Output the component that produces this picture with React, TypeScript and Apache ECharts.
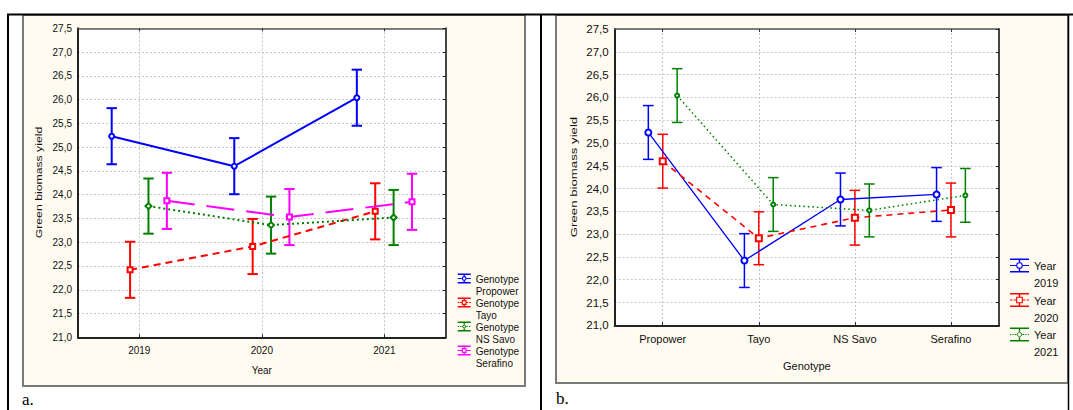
import React, { useEffect, useRef } from 'react';
import * as echarts from 'echarts';

// ---------------- data ----------------
const years = ['2019', '2020', '2021'];
const genotypes = ['Propower', 'Tayo', 'NS Savo', 'Serafino'];

const propowerMean = [25.23, 24.6, 26.04];
const tayoMean = [22.42, 22.91, 23.65];
const nsSavoMean = [23.76, 23.36, 23.52];
const serafinoMean = [23.87, 23.53, 23.85];

const propowerCI = [0.59, 0.59, 0.59];
const tayoCI = [0.59, 0.58, 0.59];
const nsSavoCI = [0.58, 0.6, 0.58];
const serafinoCI = [0.59, 0.59, 0.59];

const yMin = 21;
const yMax = 27.5;
const yStep = 0.5;

const genotypeMeans = [propowerMean, tayoMean, nsSavoMean, serafinoMean];
const genotypeCIs = [propowerCI, tayoCI, nsSavoCI, serafinoCI];

// ---------------- styling ----------------
const FONT = '"Liberation Sans", Arial, Helvetica, sans-serif';
const TXT = '#111111';
const GRIDC = '#c6c6c6';
const PANEL = '#fffbf0';

const leftStyles = [
  { color: '#0000ff', type: 'solid', width: 2, symbol: 'emptyCircle', size: 5, marker: 'circle', dash: 'solid' },
  { color: '#ff0000', type: [7, 5], width: 2, symbol: 'emptyRect', size: 5, marker: 'square', dash: 'dashed' },
  { color: '#008000', type: [2, 3], width: 2, symbol: 'emptyDiamond', size: 6, marker: 'diamond', dash: 'dotted' },
  { color: '#ff00ff', type: [28, 12], width: 2, symbol: 'emptyRect', size: 5, marker: 'square', dash: 'solid' },
];
const rightStyles = [
  { color: '#0000ff', type: 'solid', width: 1.3, symbol: 'emptyCircle', size: 6, marker: 'circle', dash: 'solid' },
  { color: '#ff0000', type: [6, 5], width: 1.6, symbol: 'emptyRect', size: 6, marker: 'square', dash: 'dashed' },
  { color: '#008000', type: [1.5, 3], width: 1.6, symbol: 'emptyCircle', size: 4, marker: 'diamond', dash: 'dotted' },
];

const rectP = (x: number, y: number, w: number, h: number) => `M${x},${y}H${x + w}V${y + h}H${x}Z`;

function glyph(w: number, gh: number, top: number, total: number, marker: string, dash: string) {
  const t = 1.4;
  const cx = w / 2;
  const cy = top + gh / 2;
  const r = gh * 0.24;
  const ri = r - 1.1;
  let d = `M0,0 `;
  d += rectP(0, top, w, t) + rectP(0, top + gh - t, w, t);
  d += rectP(cx - t / 2, top + t, t, cy - r - top - t);
  d += rectP(cx - t / 2, cy + r, t, top + gh - t - cy - r);
  const side = cx - r;
  const mids = (x0: number) => {
    if (dash === 'solid') return rectP(x0, cy - 0.6, side, 1.2);
    if (dash === 'dashed') return rectP(x0, cy - 0.6, side * 0.4, 1.2) + rectP(x0 + side * 0.6, cy - 0.6, side * 0.4, 1.2);
    let s = '';
    for (let p = 0; p + 1.2 <= side; p += 2.4) s += rectP(x0 + p, cy - 0.6, 1.2, 1.2);
    return s;
  };
  d += mids(0) + mids(cx + r);
  if (marker === 'circle') {
    d += `M${cx + r},${cy}A${r},${r},0,1,1,${cx - r},${cy}A${r},${r},0,1,1,${cx + r},${cy}Z`;
    d += `M${cx + ri},${cy}A${ri},${ri},0,1,0,${cx - ri},${cy}A${ri},${ri},0,1,0,${cx + ri},${cy}Z`;
  } else if (marker === 'square') {
    d += rectP(cx - r, cy - r, 2 * r, 2 * r);
    d += `M${cx - ri},${cy - ri}V${cy + ri}H${cx + ri}V${cy - ri}Z`;
  } else {
    d += `M${cx},${cy - r}L${cx + r},${cy}L${cx},${cy + r}L${cx - r},${cy}Z`;
    d += `M${cx},${cy - ri}L${cx - ri},${cy}L${cx},${cy + ri}L${cx + ri},${cy}Z`;
  }
  d += `M0,${total}`;
  return 'path://' + d;
}

const errRender = (color: string, lw: number, cap: number) => (params: any, api: any) => {
  const x = api.value(0);
  const lo = api.coord([x, api.value(1)]);
  const hi = api.coord([x, api.value(2)]);
  const st = { stroke: color, lineWidth: lw };
  return {
    type: 'group',
    children: [
      { type: 'line', shape: { x1: lo[0], y1: lo[1], x2: hi[0], y2: hi[1] }, style: st },
      { type: 'line', shape: { x1: hi[0] - cap, y1: hi[1], x2: hi[0] + cap, y2: hi[1] }, style: st },
      { type: 'line', shape: { x1: lo[0] - cap, y1: lo[1], x2: lo[0] + cap, y2: lo[1] }, style: st },
    ],
  };
};

const fmtY = (v: number) => v.toFixed(1).replace('.', ',');

function buildOption() {
  const series: any[] = [];
  // left chart: x = year, one line per genotype
  genotypes.forEach((g, gi) => {
    const s = leftStyles[gi];
    const off = (gi - (genotypes.length - 1) / 2) * 0.15;
    const means = genotypeMeans[gi];
    const ci = genotypeCIs[gi];
    series.push({
      type: 'custom', name: g + ' CI', xAxisIndex: 0, yAxisIndex: 0, z: 2,
      renderItem: errRender(s.color, 2, 5.2),
      encode: { x: 0, y: [1, 2] },
      data: means.map((v, i) => [i + off, v - ci[i], v + ci[i]]),
    });
    series.push({
      type: 'line', name: g, xAxisIndex: 0, yAxisIndex: 0, z: 3,
      symbol: s.symbol, symbolSize: s.size,
      itemStyle: { color: s.color, borderWidth: 1.2 },
      lineStyle: { color: s.color, width: s.width, type: s.type },
      data: means.map((v, i) => [i + off, v]),
    });
  });
  // right chart: x = genotype, one line per year
  years.forEach((y, yi) => {
    const s = rightStyles[yi];
    const off = (yi - (years.length - 1) / 2) * 0.15;
    series.push({
      type: 'custom', name: y + ' CI', xAxisIndex: 2, yAxisIndex: 2, z: 2,
      renderItem: errRender(s.color, 1.5, 5.3),
      encode: { x: 0, y: [1, 2] },
      data: genotypes.map((g, gi) => [gi + off, genotypeMeans[gi][yi] - genotypeCIs[gi][yi], genotypeMeans[gi][yi] + genotypeCIs[gi][yi]]),
    });
    series.push({
      type: 'line', name: y, xAxisIndex: 2, yAxisIndex: 2, z: 3,
      symbol: s.symbol, symbolSize: s.size,
      itemStyle: { color: s.color, borderWidth: 1.2 },
      lineStyle: { color: s.color, width: s.width, type: s.type },
      data: genotypes.map((g, gi) => [gi + off, genotypeMeans[gi][yi]]),
    });
  });

  const splitL = { show: true, lineStyle: { color: GRIDC, type: [2, 2], width: 1 } };
  const yIdx = (n: number) => Array.from({ length: n }, (_, i) => i);

  const mkX = (gridIndex: number, n: number, labels: string[], fs: number, name: string, nameGap: number) => [
    {
      type: 'value', gridIndex, min: -0.5, max: n - 0.5, position: 'bottom',
      axisLine: { show: true, onZero: false, lineStyle: { color: '#222', width: 2 } },
      axisTick: { show: true, inside: true, length: 3, customValues: yIdx(n), lineStyle: { color: '#222' } },
      axisLabel: { customValues: yIdx(n), formatter: (v: number) => labels[Math.round(v)] ?? '', fontSize: fs, fontFamily: FONT, color: TXT, margin: 8 },
      splitLine: splitL,
      name, nameLocation: 'middle', nameGap,
      nameTextStyle: { fontSize: fs, fontFamily: FONT, color: TXT },
    },
    {
      type: 'value', gridIndex, min: -0.5, max: n - 0.5, position: 'top',
      axisLine: { show: true, onZero: false, lineStyle: { color: '#555', width: 1.5 } },
      axisTick: { show: true, inside: true, length: 3, customValues: yIdx(n), lineStyle: { color: '#333' } },
      axisLabel: { show: false },
      splitLine: { show: false },
    },
  ];
  const mkY = (gridIndex: number, fs: number) => [
    {
      type: 'value', gridIndex, min: yMin, max: yMax, interval: yStep, position: 'left',
      axisLine: { show: true, onZero: false, lineStyle: { color: '#222', width: 2 } },
      axisTick: { show: false },
      axisLabel: { formatter: fmtY, fontSize: fs, fontFamily: FONT, color: TXT, margin: 6 },
      splitLine: splitL,
    },
    {
      type: 'value', gridIndex, min: yMin, max: yMax, interval: yStep, position: 'right',
      axisLine: { show: true, onZero: false, lineStyle: { color: '#444', width: 2 } },
      axisTick: { show: true, inside: true, length: 3, lineStyle: { color: '#222' } },
      axisLabel: { show: false },
      splitLine: { show: false },
    },
  ];

  return {
    animation: false,
    grid: [
      { left: 78, top: 28.3, width: 367.7, height: 309, show: true, backgroundColor: '#ffffff', borderWidth: 0 },
      { left: 614.7, top: 29, width: 384.3, height: 296.3, show: true, backgroundColor: '#ffffff', borderWidth: 0 },
    ],
    xAxis: [
      ...mkX(0, years.length, years, 10, 'Year', 28),
      ...mkX(1, genotypes.length, genotypes, 11, 'Genotype', 35),
    ],
    yAxis: [...mkY(0, 10), ...mkY(1, 11.5)],
    legend: [
      {
        orient: 'vertical', left: 457.7, top: 273.5, padding: 0, itemGap: 0,
        itemWidth: 13, itemHeight: 24, selectedMode: false,
        itemStyle: { borderWidth: 0 },
        formatter: 'Genotype\n{name}',
        textStyle: { fontSize: 10, lineHeight: 12, fontFamily: FONT, color: TXT },
        data: genotypes.map((g, gi) => ({ name: g, icon: glyph(13, 10, 0, 24, leftStyles[gi].marker, leftStyles[gi].dash) })),
      },
      {
        orient: 'vertical', left: 1010, top: 257.5, padding: 0, itemGap: 0.5,
        itemWidth: 19, itemHeight: 34, selectedMode: false,
        itemStyle: { borderWidth: 0 },
        formatter: 'Year\n{name}',
        textStyle: { fontSize: 11, lineHeight: 17, fontFamily: FONT, color: TXT },
        data: years.map((y, yi) => ({ name: y, icon: glyph(19, 14, 1, 34, rightStyles[yi].marker, rightStyles[yi].dash) })),
      },
    ],
    graphic: [
      { type: 'rect', z: -10, shape: { x: 23, y: 15, width: 502, height: 371 }, style: { fill: PANEL, stroke: '#7a7a7a', lineWidth: 2 } },
      { type: 'rect', z: -10, shape: { x: 556, y: 15, width: 512, height: 368 }, style: { fill: PANEL, stroke: '#7a7a7a', lineWidth: 2 } },
      { type: 'line', z: 10, shape: { x1: 7, y1: 14.5, x2: 1073, y2: 14.5 }, style: { stroke: '#000', lineWidth: 2 } },
      { type: 'line', z: 10, shape: { x1: 8, y1: 14, x2: 8, y2: 410 }, style: { stroke: '#000', lineWidth: 2 } },
      { type: 'line', z: 10, shape: { x1: 541, y1: 14, x2: 541, y2: 410 }, style: { stroke: '#000', lineWidth: 2 } },
      { type: 'line', z: 10, shape: { x1: 1068.5, y1: 14, x2: 1068.5, y2: 410 }, style: { stroke: '#000', lineWidth: 1.5 } },
      {
        type: 'text', z: 10, x: 39, y: 182.5, rotation: Math.PI / 2, scaleX: 1.29,
        style: { text: 'Green biomass yield', fontSize: 9.5, fontFamily: FONT, fill: TXT, align: 'center', verticalAlign: 'middle' },
      },
      {
        type: 'text', z: 10, x: 573.3, y: 177, rotation: Math.PI / 2, scaleX: 1.39,
        style: { text: 'Green biomass yield', fontSize: 9.5, fontFamily: FONT, fill: TXT, align: 'center', verticalAlign: 'middle' },
      },
      {
        type: 'text', z: 10, x: 22, y: 399,
        style: { text: 'a.', fontSize: 17, fontFamily: '"Liberation Serif", "Times New Roman", serif', fill: '#000', align: 'left', verticalAlign: 'middle' },
      },
      {
        type: 'text', z: 10, x: 556, y: 398,
        style: { text: 'b.', fontSize: 17, fontFamily: '"Liberation Serif", "Times New Roman", serif', fill: '#000', align: 'left', verticalAlign: 'middle' },
      },
    ],
    series,
  };
}

export default function App() {
  const ref = useRef<HTMLDivElement>(null);
  useEffect(() => {
    if (!ref.current) return;
    const chart = echarts.init(ref.current, undefined, { renderer: 'svg' });
    chart.setOption(buildOption() as any);
    return () => chart.dispose();
  }, []);
  return (
    <div
      ref={ref}
      style={{ position: 'absolute', left: 0, top: 0, width: 1073, height: 410, background: '#ffffff' }}
    />
  );
}
